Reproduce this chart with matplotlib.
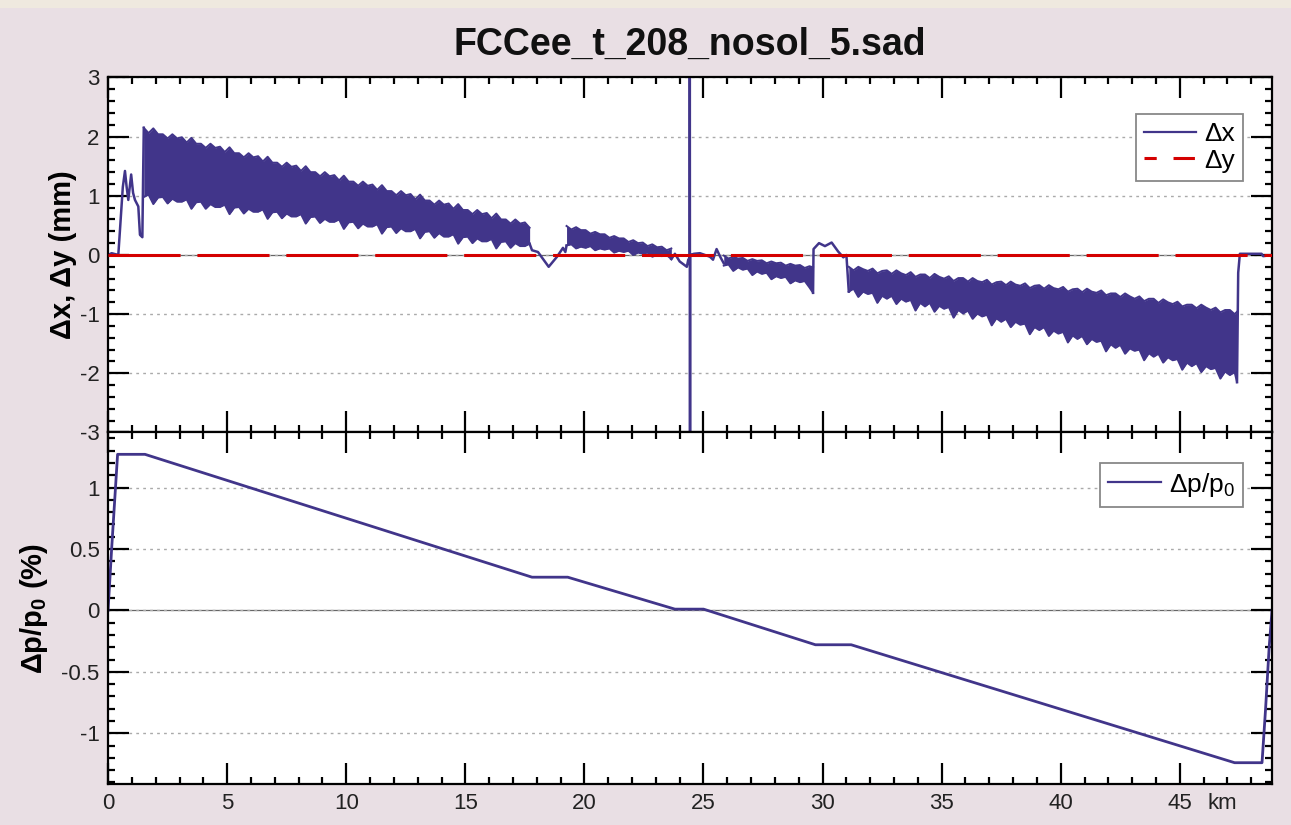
import matplotlib
matplotlib.use('Agg')
import matplotlib.pyplot as plt
from matplotlib.patches import Rectangle
from matplotlib.lines import Line2D
from matplotlib.ticker import MultipleLocator

plt.rcParams['font.family'] = ['Liberation Sans', 'DejaVu Sans']
plt.rcParams['mathtext.default'] = 'regular'
plt.rcParams['axes.unicode_minus'] = False

# ---------------------------------------------------------------------------
# datos (s en km, dx/dy en mm, dp en %)

S_MAX = 48.87

# tramo inicial de dx (antes de la banda)
s_ini = [0.0, 0.15, 0.43, 0.50, 0.62, 0.71, 0.78, 0.85, 0.97, 1.05, 1.13, 1.27, 1.34, 1.44, 1.47, 1.50]
dx_ini = [0.0, 0.03, 0.0, 0.42, 1.15, 1.42, 1.15, 0.93, 1.36, 1.05, 0.93, 0.82, 0.34, 0.30, 1.27, 2.15]

# banda 1: envolventes de la oscilacion
s_b1 = [1.5, 1.7, 1.9, 2.1, 2.3, 2.5, 2.7, 2.9, 3.1, 3.3, 3.5, 3.7, 3.9, 4.1, 4.3, 4.5, 4.7, 4.9,
        5.1, 5.3, 5.5, 5.7, 5.9, 6.1, 6.3, 6.5, 6.7, 6.9, 7.1, 7.3, 7.5, 7.7, 7.9, 8.1, 8.3, 8.5,
        8.7, 8.9, 9.1, 9.3, 9.5, 9.7, 9.9, 10.1, 10.3, 10.5, 10.7, 10.9, 11.1, 11.3, 11.5, 11.7,
        11.9, 12.1, 12.3, 12.5, 12.7, 12.9, 13.1, 13.3, 13.5, 13.7, 13.9, 14.1, 14.3, 14.5, 14.7,
        14.9, 15.1, 15.3, 15.5, 15.7, 15.9, 16.1, 16.3, 16.5, 16.7, 16.9, 17.1, 17.3, 17.5, 17.7]
hi_b1 = [2.15, 2.06, 2.14, 2.04, 2.04, 1.97, 2.04, 1.97, 1.99, 1.90, 1.98, 1.88, 1.88, 1.81, 1.88,
         1.81, 1.83, 1.74, 1.82, 1.72, 1.72, 1.65, 1.72, 1.65, 1.67, 1.58, 1.66, 1.56, 1.56, 1.49,
         1.56, 1.49, 1.51, 1.42, 1.50, 1.40, 1.40, 1.33, 1.40, 1.33, 1.35, 1.26, 1.34, 1.24, 1.24,
         1.17, 1.24, 1.17, 1.19, 1.10, 1.18, 1.08, 1.08, 1.01, 1.08, 1.01, 1.03, 0.94, 1.02, 0.92,
         0.92, 0.85, 0.92, 0.85, 0.87, 0.78, 0.86, 0.76, 0.76, 0.69, 0.76, 0.69, 0.71, 0.62, 0.70,
         0.60, 0.60, 0.53, 0.60, 0.53, 0.55, 0.46]
lo_b1 = [0.98, 1.02, 0.86, 0.97, 0.98, 0.87, 0.95, 0.90, 0.90, 0.94, 0.78, 0.89, 0.90, 0.78, 0.86,
         0.81, 0.81, 0.85, 0.69, 0.80, 0.81, 0.70, 0.78, 0.73, 0.73, 0.77, 0.61, 0.72, 0.73, 0.62,
         0.70, 0.65, 0.65, 0.69, 0.53, 0.64, 0.65, 0.54, 0.61, 0.56, 0.56, 0.60, 0.44, 0.55, 0.56,
         0.45, 0.53, 0.48, 0.48, 0.52, 0.36, 0.47, 0.48, 0.37, 0.45, 0.40, 0.40, 0.44, 0.28, 0.39,
         0.40, 0.29, 0.37, 0.31, 0.31, 0.35, 0.19, 0.30, 0.31, 0.20, 0.28, 0.23, 0.23, 0.27, 0.11,
         0.22, 0.23, 0.12, 0.20, 0.15, 0.15, 0.19]

s_t1 = [17.7, 17.8, 18.05, 18.5, 18.85, 19.1, 19.2, 19.25]
dx_t1 = [0.19, 0.08, 0.05, -0.20, -0.03, 0.12, 0.05, 0.16]

# banda 2
s_b2 = [19.25, 19.45, 19.65, 19.85, 20.05, 20.25, 20.45, 20.65, 20.85, 21.05, 21.25, 21.45,
        21.65, 21.85, 22.05, 22.25, 22.45, 22.65, 22.85, 23.05, 23.25, 23.45, 23.65]
hi_b2 = [0.49, 0.43, 0.47, 0.42, 0.42, 0.36, 0.39, 0.35, 0.35, 0.29, 0.32, 0.28, 0.28, 0.22,
         0.25, 0.20, 0.21, 0.15, 0.18, 0.13, 0.14, 0.08, 0.11]
lo_b2 = [0.16, 0.18, 0.11, 0.14, 0.12, 0.15, 0.08, 0.11, 0.09, 0.11, 0.04, 0.07, 0.05, 0.07,
         0.00, 0.04, 0.02, 0.04, -0.03, 0.00, -0.02, 0.00, -0.07]

# tramo central con el pico
s_t2 = [23.65, 23.8, 24.0, 24.3, 24.36, 24.42, 24.425, 24.435, 24.44, 24.6, 24.85, 25.27,
        25.4, 25.55, 25.7, 25.85]
dx_t2 = [-0.07, 0.02, -0.11, -0.20, -0.08, -0.05, 3.6, -3.6, 0.0, 0.02, 0.03, -0.03,
         -0.08, 0.10, -0.03, -0.14]

# banda 3
s_b3 = [25.85, 26.05, 26.25, 26.45, 26.65, 26.85, 27.05, 27.25, 27.45, 27.65, 27.85, 28.05,
        28.25, 28.45, 28.65, 28.85, 29.05, 29.25, 29.45, 29.6]
hi_b3 = [-0.01, -0.06, -0.03, -0.06, -0.05, -0.10, -0.07, -0.10, -0.09, -0.14, -0.11, -0.14,
         -0.13, -0.18, -0.15, -0.18, -0.17, -0.22, -0.19, -0.21]
lo_b3 = [-0.18, -0.16, -0.27, -0.21, -0.25, -0.23, -0.34, -0.28, -0.32, -0.30, -0.41, -0.36,
         -0.39, -0.37, -0.48, -0.43, -0.46, -0.44, -0.55, -0.64]

s_t3 = [29.6, 29.62, 29.85, 30.1, 30.38, 30.65, 30.87, 31.0, 31.1]
dx_t3 = [-0.64, 0.10, 0.20, 0.15, 0.21, 0.06, -0.04, 0.0, -0.62]

# banda 4
s_b4 = [31.1, 31.3, 31.5, 31.7, 31.9, 32.1, 32.3, 32.5, 32.7, 32.9, 33.1, 33.3, 33.5, 33.7,
        33.9, 34.1, 34.3, 34.5, 34.7, 34.9, 35.1, 35.3, 35.5, 35.7, 35.9, 36.1, 36.3, 36.5,
        36.7, 36.9, 37.1, 37.3, 37.5, 37.7, 37.9, 38.1, 38.3, 38.5, 38.7, 38.9, 39.1, 39.3,
        39.5, 39.7, 39.9, 40.1, 40.3, 40.5, 40.7, 40.9, 41.1, 41.3, 41.5, 41.7, 41.9, 42.1,
        42.3, 42.5, 42.7, 42.9, 43.1, 43.3, 43.5, 43.7, 43.9, 44.1, 44.3, 44.5, 44.7, 44.9,
        45.1, 45.3, 45.5, 45.7, 45.9, 46.1, 46.3, 46.5, 46.7, 46.9, 47.1, 47.3, 47.4]
hi_b4 = [-0.20, -0.26, -0.20, -0.24, -0.27, -0.23, -0.31, -0.27, -0.26, -0.32, -0.26, -0.31,
         -0.34, -0.29, -0.37, -0.33, -0.33, -0.39, -0.32, -0.37, -0.40, -0.36, -0.44, -0.39,
         -0.39, -0.45, -0.39, -0.44, -0.46, -0.42, -0.50, -0.46, -0.45, -0.51, -0.45, -0.50,
         -0.52, -0.48, -0.56, -0.52, -0.51, -0.57, -0.51, -0.56, -0.58, -0.54, -0.62, -0.58,
         -0.57, -0.63, -0.57, -0.62, -0.64, -0.60, -0.68, -0.65, -0.65, -0.71, -0.65, -0.70,
         -0.74, -0.70, -0.78, -0.74, -0.74, -0.81, -0.75, -0.80, -0.83, -0.79, -0.87, -0.84,
         -0.84, -0.90, -0.84, -0.89, -0.93, -0.89, -0.97, -0.93, -0.93, -1.00, -0.96]
lo_b4 = [-0.62, -0.57, -0.71, -0.62, -0.66, -0.64, -0.81, -0.69, -0.74, -0.69, -0.83, -0.74,
         -0.79, -0.76, -0.94, -0.81, -0.87, -0.81, -0.96, -0.86, -0.91, -0.88, -1.06, -0.93,
         -0.99, -0.94, -1.08, -0.99, -1.04, -1.01, -1.19, -1.07, -1.13, -1.08, -1.22, -1.13,
         -1.18, -1.16, -1.34, -1.22, -1.27, -1.22, -1.37, -1.28, -1.33, -1.30, -1.48, -1.36,
         -1.42, -1.37, -1.51, -1.42, -1.47, -1.45, -1.63, -1.51, -1.57, -1.52, -1.67, -1.58,
         -1.62, -1.60, -1.78, -1.66, -1.72, -1.67, -1.82, -1.73, -1.78, -1.76, -1.94, -1.82,
         -1.88, -1.83, -1.98, -1.88, -1.93, -1.91, -2.09, -1.97, -2.03, -1.98, -2.15]

s_t4 = [47.4, 47.45, 47.52, 48.0, 48.43, 48.5, S_MAX]
dx_t4 = [-2.15, -0.30, 0.02, 0.02, 0.02, -0.02, 0.0]

# dy
s_dy = [0.0, S_MAX]
dy = [0.0, 0.0]

# dp/p0
s_dp = [0.0, 0.15, 0.40, 1.55, 17.8, 19.3, 23.8, 25.0, 29.7, 31.2, 47.3, 48.45, 48.6, 48.75, S_MAX]
dp = [0.0, 0.5, 1.27, 1.27, 0.27, 0.27, 0.01, 0.01, -0.28, -0.28, -1.24, -1.24, -0.8, -0.3, 0.0]

titulo = 'FCCee_t_208_nosol_5.sad'

# ---------------------------------------------------------------------------

azul = '#41358a'
rojo = '#d40000'
fondo = '#e9dfe4'

fig = plt.figure(figsize=(12.91, 8.25), dpi=100, facecolor=fondo)
fig.patches.append(Rectangle((0, 1 - 8 / 825.), 1, 8 / 825., transform=fig.transFigure,
                             facecolor='#efe9df', edgecolor='none', zorder=0))

ax1 = fig.add_axes([0.0837, 0.4758, 0.9016, 0.4303])
ax2 = fig.add_axes([0.0837, 0.0493, 0.9016, 0.4265], sharex=ax1)


def estilo(ax, major, minor):
    ax.set_xlim(0, S_MAX)
    ax.xaxis.set_major_locator(MultipleLocator(5))
    ax.xaxis.set_minor_locator(MultipleLocator(1))
    ax.yaxis.set_major_locator(MultipleLocator(major))
    ax.yaxis.set_minor_locator(MultipleLocator(minor))
    ax.tick_params(which='both', direction='in', top=True, right=True, width=1.6,
                   labelsize=16, colors='black', labelcolor='#222222')
    ax.tick_params(which='major', length=15, pad=6)
    ax.tick_params(which='minor', length=5)
    for sp in ax.spines.values():
        sp.set_linewidth(1.6)
    ax.grid(axis='y', which='major', color='#aaaaaa', lw=1, linestyle=(0, (2, 3)))
    ax.axhline(0, color='#666666', lw=0.9, zorder=1)


# panel superior
estilo(ax1, 1, 0.2)
ax1.set_ylim(-3, 3)
for s, lo, hi in [(s_b1, lo_b1, hi_b1), (s_b2, lo_b2, hi_b2), (s_b3, lo_b3, hi_b3), (s_b4, lo_b4, hi_b4)]:
    ax1.fill_between(s, lo, hi, color=azul, lw=0, zorder=2)
    ax1.plot(s, hi, color=azul, lw=1.4, zorder=2)
    ax1.plot(s, lo, color=azul, lw=1.4, zorder=2)
for s, v in [(s_ini, dx_ini), (s_t1, dx_t1), (s_t2, dx_t2), (s_t3, dx_t3), (s_t4, dx_t4)]:
    ax1.plot(s, v, color=azul, lw=1.8, zorder=2)
ax1.plot(s_dy, dy, color=rojo, lw=2.2, dashes=(23.6, 5.5), zorder=3)
ax1.tick_params(labelbottom=False)
ax1.set_ylabel('Δx, Δy (mm)', fontsize=21, fontweight='bold')
ax1.yaxis.set_label_coords(-0.027, 0.5)

h1 = [Line2D([], [], color=azul, lw=1.6), Line2D([], [], color=rojo, lw=2.2, dashes=(4, 5.5, 7, 3))]
leg1 = ax1.legend(h1, ['Δx', 'Δy'], loc='upper right', bbox_to_anchor=(0.975, 0.897),
                  fontsize=19, handlelength=2.0, fancybox=False, framealpha=1,
                  edgecolor='#888888', borderaxespad=0, handletextpad=0.3,
                  labelspacing=0.1, borderpad=0.3)
leg1.get_frame().set_linewidth(1.3)

# panel inferior
estilo(ax2, 0.5, 0.1)
ax2.set_ylim(-1.416, 1.448)
ax2.plot(s_dp, dp, color=azul, lw=2, zorder=2)
ax2.set_ylabel('Δp/p$_0$ (%)', fontsize=21, fontweight='bold')
ax2.yaxis.set_label_coords(-0.05, 0.5)
ax2.set_yticks([-1, -0.5, 0, 0.5, 1])
ax2.set_yticklabels(['-1', '-0.5', '0', '0.5', '1'])
ax2.set_xticks(range(0, 50, 5))
ax2.set_xticklabels([str(v) for v in range(0, 50, 5)])
ax2.annotate('km', xy=(45, 0), xycoords=ax2.get_xaxis_transform(), xytext=(20, -6),
             textcoords='offset points', ha='left', va='top', fontsize=16, color='#222222')

leg2 = ax2.legend([Line2D([], [], color=azul, lw=1.6)], ['Δp/p$_0$'], loc='upper right',
                  bbox_to_anchor=(0.975, 0.914), fontsize=19, handlelength=2.0,
                  fancybox=False, framealpha=1, edgecolor='#888888', borderaxespad=0,
                  handletextpad=0.3, borderpad=0.3)
leg2.get_frame().set_linewidth(1.3)

fig.text(0.5346, 1 - 45 / 825., titulo, ha='center', va='center', fontsize=27,
         fontweight='bold', color='#111111')

fig.savefig('out.png', dpi=100, facecolor=fondo)
